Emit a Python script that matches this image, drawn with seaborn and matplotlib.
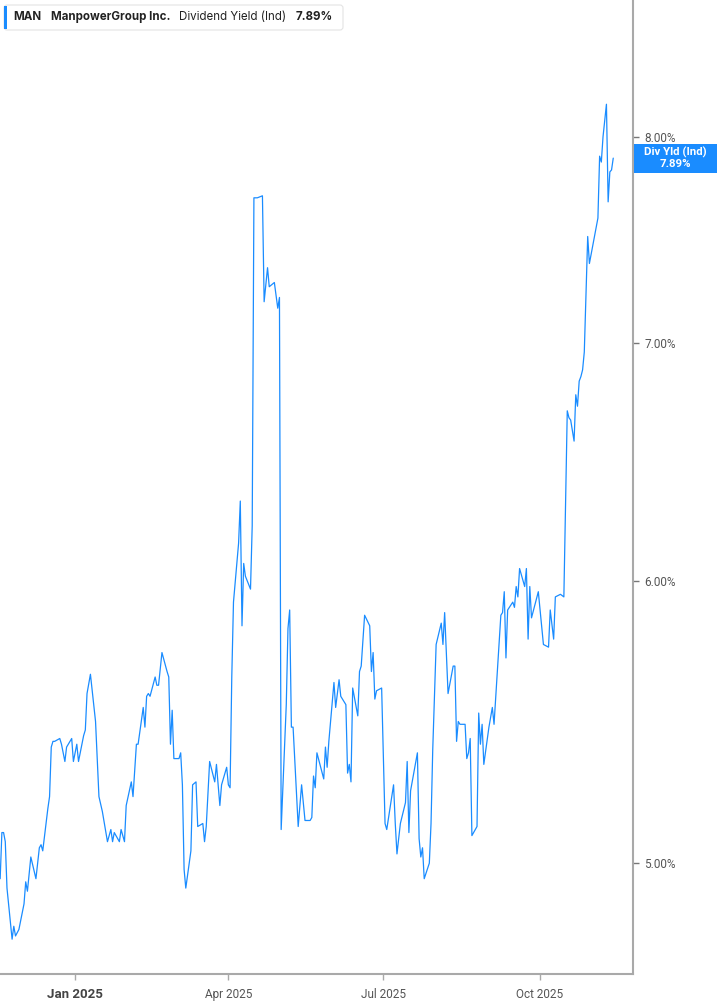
import numpy as np
import pandas as pd
import matplotlib
matplotlib.use("Agg")
import matplotlib.pyplot as plt
import matplotlib.dates as mdates
from matplotlib.patches import Rectangle, FancyBboxPatch
from matplotlib.ticker import FixedLocator, NullLocator, FuncFormatter
from matplotlib.transforms import IdentityTransform
import seaborn as sns

# === DATA ===
dates = [
    "2024-11-18", "2024-11-19", "2024-11-20", "2024-11-21", "2024-11-22", "2024-11-25", "2024-11-26",
    "2024-11-27", "2024-11-29", "2024-12-02", "2024-12-03", "2024-12-04", "2024-12-06", "2024-12-09",
    "2024-12-11", "2024-12-12", "2024-12-13", "2024-12-16", "2024-12-17", "2024-12-18", "2024-12-19",
    "2024-12-20", "2024-12-23", "2024-12-24", "2024-12-26", "2024-12-27", "2024-12-30", "2024-12-31",
    "2025-01-02", "2025-01-03", "2025-01-06", "2025-01-07", "2025-01-08", "2025-01-10", "2025-01-13",
    "2025-01-15", "2025-01-17", "2025-01-20", "2025-01-22", "2025-01-23", "2025-01-24", "2025-01-27",
    "2025-01-28", "2025-01-30", "2025-01-31", "2025-02-03", "2025-02-04", "2025-02-06", "2025-02-07",
    "2025-02-10", "2025-02-11", "2025-02-12", "2025-02-13", "2025-02-14", "2025-02-17", "2025-02-18",
    "2025-02-19", "2025-02-21", "2025-02-24", "2025-02-25", "2025-02-26", "2025-02-27", "2025-02-28",
    "2025-03-03", "2025-03-04", "2025-03-05", "2025-03-06", "2025-03-07", "2025-03-10", "2025-03-11",
    "2025-03-13", "2025-03-14", "2025-03-17", "2025-03-18", "2025-03-19", "2025-03-21", "2025-03-24",
    "2025-03-25", "2025-03-27", "2025-03-28", "2025-03-31", "2025-04-01", "2025-04-02", "2025-04-03",
    "2025-04-04", "2025-04-07", "2025-04-08", "2025-04-09", "2025-04-10", "2025-04-11", "2025-04-14",
    "2025-04-15", "2025-04-16", "2025-04-18", "2025-04-21", "2025-04-22", "2025-04-24", "2025-04-25",
    "2025-04-28", "2025-04-30", "2025-05-01", "2025-05-02", "2025-05-05", "2025-05-06", "2025-05-07",
    "2025-05-08", "2025-05-09", "2025-05-12", "2025-05-14", "2025-05-16", "2025-05-19", "2025-05-20",
    "2025-05-21", "2025-05-22", "2025-05-23", "2025-05-27", "2025-05-28", "2025-05-29", "2025-05-30",
    "2025-06-02", "2025-06-03", "2025-06-05", "2025-06-06", "2025-06-09", "2025-06-10", "2025-06-11",
    "2025-06-12", "2025-06-13", "2025-06-16", "2025-06-17", "2025-06-18", "2025-06-20", "2025-06-23",
    "2025-06-24", "2025-06-25", "2025-06-26", "2025-06-27", "2025-06-30", "2025-07-02", "2025-07-03",
    "2025-07-07", "2025-07-08", "2025-07-09", "2025-07-11", "2025-07-14", "2025-07-15", "2025-07-16",
    "2025-07-17", "2025-07-21", "2025-07-22", "2025-07-23", "2025-07-24", "2025-07-25", "2025-07-28",
    "2025-07-29", "2025-07-30", "2025-08-01", "2025-08-04", "2025-08-05", "2025-08-06", "2025-08-08",
    "2025-08-11", "2025-08-12", "2025-08-13", "2025-08-14", "2025-08-15", "2025-08-18", "2025-08-19",
    "2025-08-20", "2025-08-21", "2025-08-22", "2025-08-25", "2025-08-26", "2025-08-27", "2025-08-28",
    "2025-08-29", "2025-09-01", "2025-09-03", "2025-09-04", "2025-09-08", "2025-09-09", "2025-09-10",
    "2025-09-11", "2025-09-12", "2025-09-15", "2025-09-16", "2025-09-17", "2025-09-18", "2025-09-19",
    "2025-09-22", "2025-09-23", "2025-09-24", "2025-09-25", "2025-09-26", "2025-09-30", "2025-10-03",
    "2025-10-06", "2025-10-07", "2025-10-09", "2025-10-10", "2025-10-13", "2025-10-15", "2025-10-17",
    "2025-10-18", "2025-10-19", "2025-10-21", "2025-10-22", "2025-10-23", "2025-10-24", "2025-10-25",
    "2025-10-26", "2025-10-27", "2025-10-29", "2025-10-30", "2025-11-02", "2025-11-04", "2025-11-05",
    "2025-11-06", "2025-11-07", "2025-11-09", "2025-11-10", "2025-11-11", "2025-11-12", "2025-11-13",
]
div_yield = [
    4.95, 5.10, 5.10, 5.07, 4.92, 4.76, 4.80,
    4.77, 4.79, 4.87, 4.94, 4.91, 5.02, 4.95,
    5.05, 5.06, 5.04, 5.18, 5.22, 5.39, 5.41,
    5.41, 5.42, 5.40, 5.34, 5.39, 5.42, 5.34,
    5.40, 5.34, 5.43, 5.45, 5.58, 5.65, 5.48,
    5.22, 5.17, 5.07, 5.11, 5.07, 5.10, 5.07,
    5.11, 5.07, 5.19, 5.27, 5.22, 5.40, 5.40,
    5.53, 5.46, 5.57, 5.58, 5.57, 5.64, 5.61,
    5.61, 5.73, 5.66, 5.64, 5.40, 5.52, 5.35,
    5.35, 5.37, 5.26, 4.98, 4.92, 5.04, 5.26,
    5.27, 5.12, 5.13, 5.07, 5.12, 5.34, 5.27,
    5.33, 5.19, 5.26, 5.32, 5.26, 5.25, 5.64,
    5.92, 6.15, 6.32, 5.83, 6.07, 6.02, 5.97,
    6.22, 7.69, 7.69, 7.70, 7.19, 7.35, 7.26,
    7.28, 7.16, 7.21, 5.11, 5.54, 5.82, 5.89,
    5.46, 5.46, 5.12, 5.26, 5.14, 5.14, 5.15,
    5.29, 5.25, 5.37, 5.28, 5.39, 5.32, 5.41,
    5.62, 5.53, 5.63, 5.57, 5.54, 5.30, 5.33,
    5.27, 5.60, 5.50, 5.66, 5.68, 5.87, 5.83,
    5.66, 5.73, 5.56, 5.59, 5.60, 5.13, 5.11,
    5.26, 5.13, 5.03, 5.13, 5.20, 5.34, 5.10,
    5.24, 5.37, 5.08, 5.02, 5.05, 4.95, 5.00,
    5.13, 5.38, 5.76, 5.84, 5.76, 5.88, 5.58,
    5.68, 5.68, 5.41, 5.48, 5.47, 5.47, 5.35,
    5.37, 5.42, 5.09, 5.12, 5.51, 5.40, 5.47,
    5.33, 5.46, 5.53, 5.47, 5.87, 5.88, 5.96,
    5.71, 5.89, 5.92, 5.90, 5.98, 5.94, 6.05,
    5.98, 6.05, 5.78, 5.98, 5.86, 5.96, 5.76,
    5.75, 5.89, 5.78, 5.94, 5.95, 5.94, 6.70,
    6.67, 6.66, 6.57, 6.77, 6.72, 6.83, 6.85,
    6.88, 6.96, 7.50, 7.37, 7.50, 7.59, 7.90,
    7.87, 8.00, 8.17, 7.67, 7.82, 7.83, 7.89,
]

ticker = "MAN"
company = "ManpowerGroup Inc."
metric = "Dividend Yield (Ind)"
badge_label = "Div Yld (Ind)"
y_ticks = [5, 6, 7, 8]
x_ticks = ["2025-01-01", "2025-04-01", "2025-07-01", "2025-10-01"]
x_tick_labels = ["Jan 2025", "Apr 2025", "Jul 2025", "Oct 2025"]

# === STYLE ===
W, H = 717, 1005
LINE = "#1a8cff"
SPINE = "#a9a9a9"
TXT = "#555555"

df = pd.DataFrame({"date": pd.to_datetime(dates), "yield": div_yield})

sns.set_style("white")
plt.rcParams["font.family"] = ["Roboto", "DejaVu Sans"]

fig = plt.figure(figsize=(W / 100, H / 100), dpi=100)
ax = fig.add_axes([0, 1 - 974 / H, 633 / W, 974 / H])

sns.lineplot(data=df, x="date", y="yield", ax=ax, color=LINE, linewidth=0.9)

ax.set_yscale("log")
ax.set_ylim(4.654, 8.74)
t0 = pd.Timestamp("2025-01-01")
ax.set_xlim(t0 - pd.Timedelta(days=44.1), t0 + pd.Timedelta(days=327.6))

# y axis on the right
ax.yaxis.tick_right()
ax.yaxis.set_major_locator(FixedLocator(y_ticks))
ax.yaxis.set_minor_locator(NullLocator())
ax.yaxis.set_major_formatter(FuncFormatter(lambda v, _: f"{v:.2f}%"))
ax.tick_params(axis="y", which="major", right=True, left=False, length=4, width=1,
               color="#777777", labelcolor=TXT, labelsize=8.5, pad=4, direction="out")

# x axis
ax.set_xticks(pd.to_datetime(x_ticks))
ax.set_xticklabels(x_tick_labels)
ax.tick_params(axis="x", which="major", bottom=True, length=4, width=1,
               color=SPINE, labelcolor=TXT, labelsize=8.5, pad=6, direction="out")
lbls = ax.get_xticklabels()
lbls[0].set_fontweight("bold")
lbls[0].set_fontsize(9.5)
lbls[0].set_color("#444444")
ax.set_xlabel("")
ax.set_ylabel("")

for side in ["left", "top"]:
    ax.spines[side].set_visible(False)
for side in ["right", "bottom"]:
    ax.spines[side].set_color(SPINE)
    ax.spines[side].set_linewidth(1.5)

# === last value badge ===
px = IdentityTransform()
last_x = mdates.date2num(df["date"].iloc[-1])
y_disp = ax.transData.transform((last_x, div_yield[-1]))[1]
fig.add_artist(Rectangle((634, y_disp - 14.5), 83, 29, transform=px,
                         facecolor=LINE, edgecolor="none", zorder=5))
fig.text(675, y_disp + 6, badge_label, transform=px, ha="center", va="center",
         color="white", fontsize=8.2, fontweight="bold", zorder=6)
fig.text(675, y_disp - 6, f"{div_yield[-1]:.2f}%", transform=px, ha="center", va="center",
         color="white", fontsize=8.2, fontweight="bold", zorder=6)

# === header box ===
fig.add_artist(FancyBboxPatch((4, H - 30), 339, 25, boxstyle="round,pad=0,rounding_size=3",
                              transform=px, facecolor="white", edgecolor="#e4e4e4",
                              linewidth=0.8, zorder=5))
fig.add_artist(Rectangle((4, H - 29), 3, 23, transform=px, facecolor=LINE,
                         edgecolor="none", zorder=6))
hy = H - 17
hfont = ["Inter", "DejaVu Sans"]
hsize = 8.3
fig.text(13, hy, ticker, transform=px, va="center", ha="left", fontsize=hsize,
         fontweight="bold", color="#222222", family=hfont, zorder=7)
fig.text(51, hy, company, transform=px, va="center", ha="left", fontsize=hsize,
         fontweight="bold", color="#222222", family=hfont, zorder=7)
fig.text(179, hy, metric, transform=px, va="center", ha="left", fontsize=hsize,
         color="#222222", family=hfont, zorder=7)
fig.text(296, hy, f"{div_yield[-1]:.2f}%", transform=px, va="center", ha="left", fontsize=hsize,
         fontweight="bold", color="#222222", family=hfont, zorder=7)

fig.savefig("out.png", dpi=100)
